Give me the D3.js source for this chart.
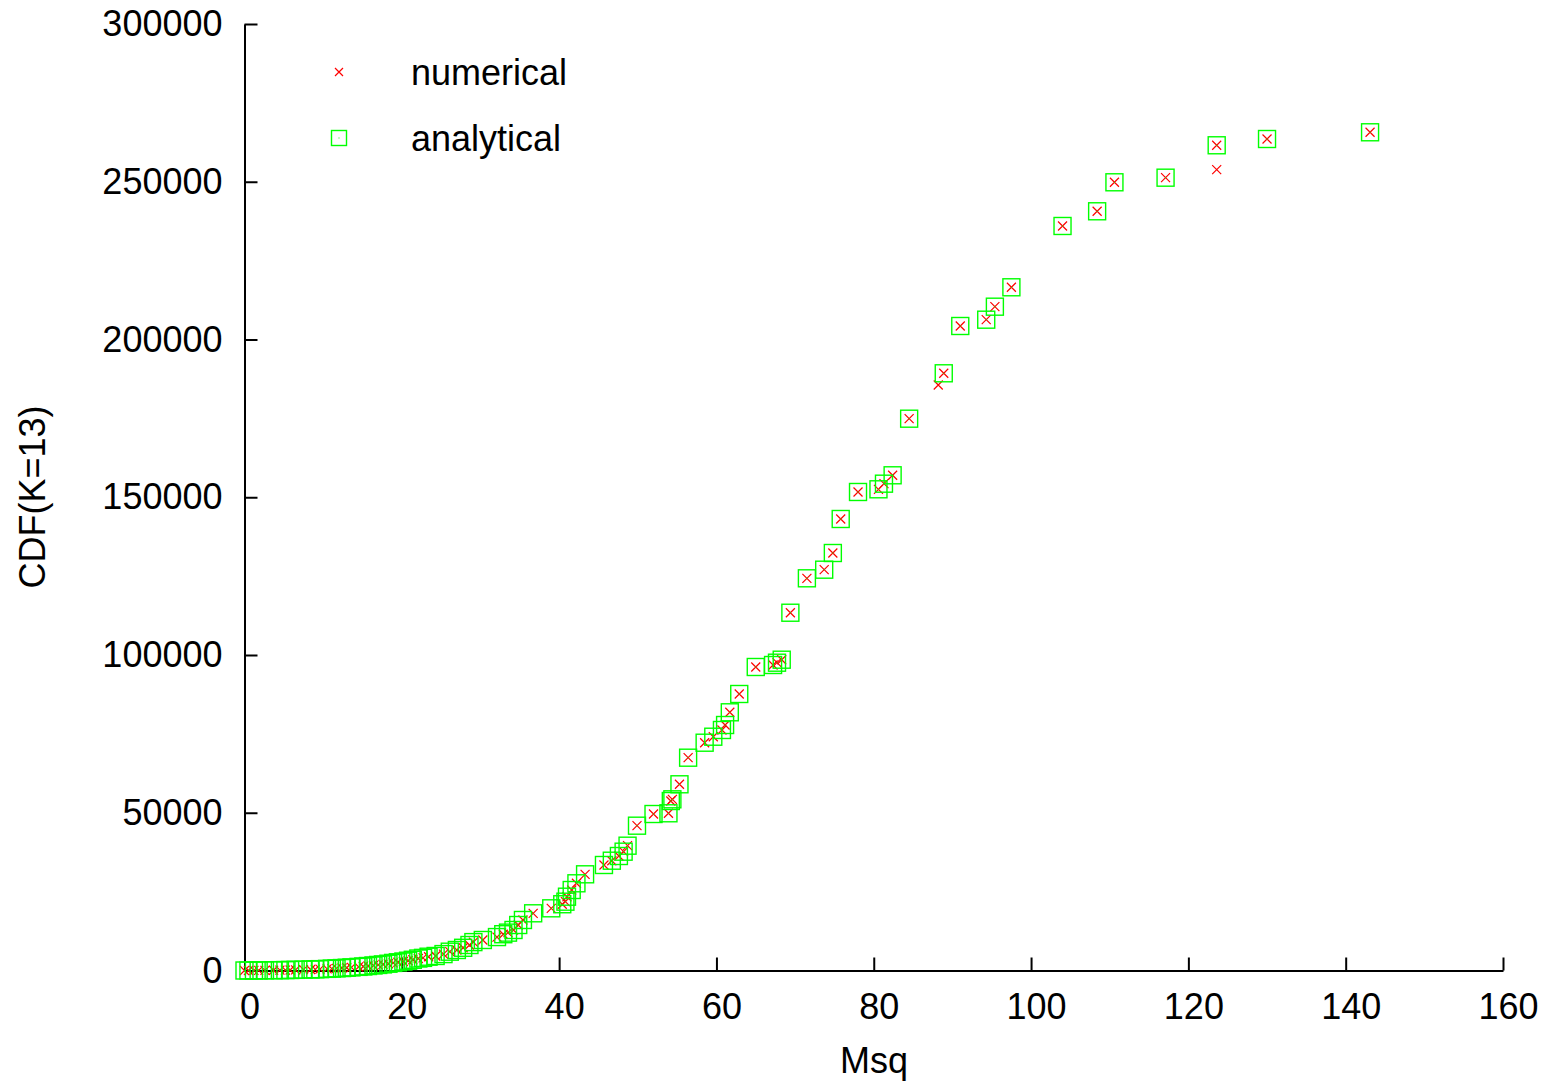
<!DOCTYPE html>
<html>
<head>
<meta charset="utf-8">
<script src="https://cdn.jsdelivr.net/npm/d3@7"></script>
<style>
	body{ margin:0; background:#fff; }
	text{ font-family:"Liberation Sans", Arial, sans-serif; fill:#000; }
</style>
</head>
<body>
<div id="chart"></div>
<script>
// Msq values and CDF for the two series
var msq = [0, 0.5, 1.2, 1.8, 2.6, 3.7, 4.5, 5.2, 5.8, 6.5, 7.5, 8.4, 9.0, 9.6, 10.5, 11.1, 11.7, 12.4, 13.0, 13.6,
	14.5, 15.1, 15.7, 16.4, 17.0, 17.6, 18.3, 18.9, 19.5, 20.2, 20.8, 21.4, 22.1, 22.7, 23.4, 24.3, 25.3, 26.1, 27.0, 27.8,
	28.6, 29.1, 30.3, 32.1, 32.9, 33.5, 34.2, 34.8, 35.4, 36.7, 39.0, 40.4, 40.8, 41.0, 41.6, 42.2, 43.3, 45.7, 46.7, 47.6,
	48.2, 48.7, 49.9, 52.0, 53.9, 54.2, 54.4, 55.3, 56.4, 58.5, 59.6, 60.7, 61.1, 61.7, 62.9, 65.0, 67.2, 67.7, 68.3, 69.4,
	71.5, 73.7, 74.8, 75.8, 78.0, 80.6, 81.3, 82.4, 84.5, 88.9, 91.0, 94.3, 95.4, 97.5, 104.0, 108.4, 110.6, 117.1, 123.6, 130.0,
	143.1];
var analytical = [0, 10, 20, 30, 50, 80, 110, 140, 170, 210, 270, 330, 380, 430, 520, 600, 680, 780, 880, 990,
	1150, 1280, 1420, 1600, 1760, 1930, 2150, 2400, 2600, 2850, 3100, 3400, 3800, 4000, 4370, 4600, 5200, 5960, 6500, 7200,
	8080, 9000, 9670, 10600, 11500, 12000, 12840, 14420, 16010, 18130, 19710, 21000, 21810, 23390, 25510, 27640, 30490, 33440, 34800, 36290,
	37660, 39560, 45900, 49600, 49830, 53720, 54260, 59020, 67450, 72200, 74100, 76230, 77810, 81840, 87640, 96200, 96830, 97560, 98510, 113400,
	124310, 127040, 132330, 143110, 151670, 152520, 154300, 156960, 174900, 189290, 204280, 206280, 210400, 216550, 235980, 240640, 249830, 251290, 261560, 263550,
	265680];
var numerical = analytical.slice();
// numerical points that have no analytical match
var extraMsq = [88.2, 123.6];
var extraNumerical = [185580, 253830];

var xTicks = [0, 20, 40, 60, 80, 100, 120, 140, 160];
var yTicks = [0, 50000, 100000, 150000, 200000, 250000, 300000];

function ScatterChart(){
	var width = 1544, height = 1083;
	var svg, x, y;

	this.init = function(){
		svg = d3.select("#chart").append("svg")
		.attr("width", width)
		.attr("height", height);

		x = d3.scaleLinear().domain([0, 160]).range([244.5, 1503]);
		y = d3.scaleLinear().domain([0, 300000]).range([970.5, 24]);

		this.drawAxes();
		this.drawPoints();
		this.drawLegend();
		return this;
	};

	this.drawAxes = function(){
		var yAxis = svg.append("g")
		.attr("transform", "translate(" + x(0) + ",0)")
		.call(d3.axisLeft(y).tickValues(yTicks).tickSizeInner(-13).tickSizeOuter(0).tickPadding(22).tickFormat(d3.format("d")));

		var xAxis = svg.append("g")
		.attr("transform", "translate(0," + y(0) + ")")
		.call(d3.axisBottom(x).tickValues(xTicks).tickSizeInner(-13).tickSizeOuter(0).tickPadding(23).tickFormat(d3.format("d")));

		[xAxis, yAxis].forEach(function(a){
			a.select(".domain").attr("stroke", "black").attr("stroke-width", 2);
			a.selectAll(".tick line").attr("stroke", "black").attr("stroke-width", 2);
			a.selectAll(".tick text").attr("font-size", 36).attr("font-family", "Liberation Sans, Arial, sans-serif").attr("fill", "black");
		});
		xAxis.selectAll(".tick text").attr("dx", 5);

		svg.append("text")
		.attr("x", 874).attr("y", 1073)
		.attr("text-anchor", "middle")
		.attr("font-size", 36)
		.text("Msq");

		svg.append("text")
		.attr("transform", "translate(45,497) rotate(-90)")
		.attr("text-anchor", "middle")
		.attr("font-size", 36)
		.text("CDF(K=13)");
	};

	function cross(sel, s){
		return sel.append("path")
		.attr("d", "M" + (-s) + "," + (-s) + "L" + s + "," + s + "M" + (-s) + "," + s + "L" + s + "," + (-s))
		.attr("stroke", "#ff0000").attr("stroke-width", 1.2).attr("fill", "none");
	}

	function square(sel, s){
		sel.append("rect")
		.attr("x", -s).attr("y", -s).attr("width", 2 * s).attr("height", 2 * s)
		.attr("stroke", "#00ff00").attr("stroke-width", 1.4).attr("fill", "none");
		sel.append("rect")
		.attr("x", -0.5).attr("y", -0.5).attr("width", 1).attr("height", 1)
		.attr("fill", "#00ff00");
	}

	this.drawPoints = function(){
		var numPts = msq.map(function(m, i){ return [m, numerical[i]]; })
		.concat(extraMsq.map(function(m, i){ return [m, extraNumerical[i]]; }));
		var anaPts = msq.map(function(m, i){ return [m, analytical[i]]; });

		svg.append("g").selectAll("g")
		.data(numPts)
		.enter().append("g")
		.attr("transform", function(d){ return "translate(" + x(d[0]) + "," + y(d[1]) + ")"; })
		.each(function(){ cross(d3.select(this), 4.5); });

		svg.append("g").selectAll("g")
		.data(anaPts)
		.enter().append("g")
		.attr("transform", function(d){ return "translate(" + x(d[0]) + "," + y(d[1]) + ")"; })
		.each(function(){ square(d3.select(this), 8.5); });
	};

	this.drawLegend = function(){
		var leg = svg.append("g");
		cross(leg.append("g").attr("transform", "translate(339,72)"), 4);
		square(leg.append("g").attr("transform", "translate(339,138)"), 7.5);

		leg.append("text").attr("x", 411).attr("y", 72).attr("dy", "0.35em").attr("font-size", 36).text("numerical");
		leg.append("text").attr("x", 411).attr("y", 138).attr("dy", "0.35em").attr("font-size", 36).text("analytical");
	};
}

new ScatterChart().init();
</script>
</body>
</html>
